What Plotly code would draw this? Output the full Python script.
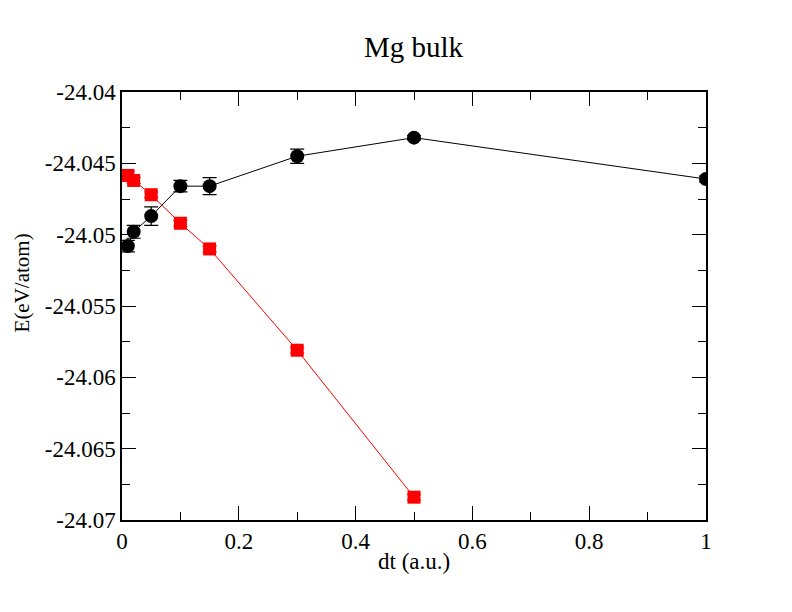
import plotly.graph_objects as go

# time step (a.u.)
dt = [0.01, 0.02, 0.05, 0.1, 0.15, 0.3, 0.5, 1.0]
energy_black = [-24.0508, -24.0498, -24.0487, -24.0466, -24.0466, -24.0445, -24.0432, -24.0461]
err_black = [0.0004, 0.00045, 0.00065, 0.0004, 0.0006, 0.0005, 0.00015, 0.0002]

dt_red = [0.01, 0.02, 0.05, 0.1, 0.15, 0.3, 0.5]
energy_red = [-24.04585, -24.0462, -24.0472, -24.0492, -24.0510, -24.0581, -24.0684]
err_red = [0.0003, 0.0002, 0.0002, 0.0002, 0.0002, 0.0002, 0.0002]

ytick_vals = [-24.07, -24.065, -24.06, -24.055, -24.05, -24.045, -24.04]
ytick_text = ["-24.07", "-24.065", "-24.06", "-24.055", "-24.05", "-24.045", "-24.04"]
xtick_vals = [0, 0.2, 0.4, 0.6, 0.8, 1]
xtick_text = ["0", "0.2", "0.4", "0.6", "0.8", "1"]

serif = "Liberation Serif"

fig = go.Figure()

fig.add_trace(go.Scatter(
    x=dt, y=energy_black, mode="lines+markers",
    line=dict(color="black", width=1),
    marker=dict(symbol="circle", size=14, color="black"),
    error_y=dict(type="data", array=err_black, color="black", thickness=1.2, width=7),
    showlegend=False,
))

fig.add_trace(go.Scatter(
    x=dt_red, y=energy_red, mode="lines+markers",
    line=dict(color="red", width=1),
    marker=dict(symbol="square", size=13, color="red"),
    error_y=dict(type="data", array=err_red, color="red", thickness=1.2, width=7),
    showlegend=False,
))

axis_font = dict(family=serif, size=23, color="black")

fig.update_layout(
    width=792, height=612,
    margin=dict(l=114, r=94, t=84, b=100),
    paper_bgcolor="white", plot_bgcolor="white",
    title=dict(text="Mg bulk", x=0.512, xanchor="center", y=0.936, yanchor="middle",
               font=dict(family=serif, size=29, color="black")),
    font=dict(family=serif, color="black"),
)

# axis titles as annotations so they sit where the original has them
fig.add_annotation(text="dt (a.u.)", xref="paper", yref="paper", x=0.5, y=-0.098,
                   xanchor="center", yanchor="middle", showarrow=False,
                   font=dict(family=serif, size=23, color="black"))
fig.add_annotation(text="E(eV/atom)", xref="paper", yref="paper", x=-0.171, y=0.553,
                   xanchor="center", yanchor="middle", textangle=-90, showarrow=False,
                   font=dict(family=serif, size=21, color="black"))

fig.update_xaxes(
    range=[0, 1], tickvals=xtick_vals, ticktext=xtick_text,
    ticks="inside", ticklen=14, tickwidth=1, tickcolor="black",
    minor=dict(ticks="inside", ticklen=8, dtick=0.1, tickcolor="black", tickwidth=1),
    showline=True, linecolor="black", linewidth=1.5, mirror="allticks",
    showgrid=False, zeroline=False, tickfont=axis_font,
)

fig.update_yaxes(
    range=[-24.07, -24.04], tickvals=ytick_vals, ticktext=ytick_text,
    ticks="inside", ticklen=14, tickwidth=1, tickcolor="black",
    minor=dict(ticks="inside", ticklen=8, dtick=0.0025, tick0=-24.07, tickcolor="black", tickwidth=1),
    showline=True, linecolor="black", linewidth=1.5, mirror="allticks",
    showgrid=False, zeroline=False, tickfont=axis_font,
)

fig.write_html("out.html")
